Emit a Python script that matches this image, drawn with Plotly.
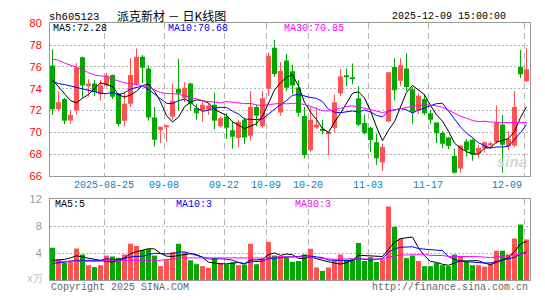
import plotly.graph_objects as go

# ---------------- data ----------------
opens = [76.12, 72.12, 73.06, 71.09, 72.0, 76.88, 74.3, 74.47, 73.5, 74.3,
         75.26, 73.56, 71.06, 72.62, 74.38, 76.94, 75.85, 71.35, 70.18, 70.5,
         71.44, 74.0, 73.12, 74.47, 72.24, 72.03, 72.1, 72.53, 70.56, 71.44,
         70.2, 69.47, 71.15, 69.68, 72.32, 70.56, 74.0, 77.76, 71.82, 76.59,
         75.6, 74.1, 71.5, 68.35, 70.45, 70.32, 69.9, 70.41, 73.56, 75.15,
         74.97, 73.12, 70.85, 70.41, 69.09, 67.24, 71.0, 76.0, 74.74, 75.85,
         73.94, 72.03, 73.06, 71.74, 70.91, 69.97, 69.53, 67.82, 66.68, 69.15,
         69.32, 68.06, 68.56, 68.85, 69.09, 70.71, 68.74, 68.79, 76.0, 74.68]
highs = [77.62, 73.75, 73.15, 72.0, 76.35, 76.95, 74.9, 74.8, 74.8, 75.45,
         75.3, 73.6, 73.7, 76.82, 77.7, 77.1, 76.15, 72.32, 70.5, 70.7,
         74.5, 76.74, 74.6, 74.55, 72.6, 72.82, 72.6, 73.65, 71.44, 71.74,
         71.0, 71.15, 71.35, 73.8, 72.53, 73.8, 77.32, 78.5, 76.44, 77.18,
         76.2, 74.82, 72.32, 72.32, 72.3, 71.15, 70.06, 73.5, 75.8, 75.85,
         76.3, 74.24, 71.6, 70.5, 69.88, 68.94, 75.5, 76.79, 76.79, 77.26,
         74.15, 73.56, 73.5, 72.03, 70.91, 70.12, 69.6, 68.5, 68.79, 69.38,
         69.44, 68.85, 69.15, 69.15, 72.47, 71.59, 70.12, 73.79, 77.56, 77.76]
lows = [71.59, 71.95, 70.76, 70.76, 71.65, 73.2, 73.26, 73.35, 72.9, 74.1,
        73.06, 70.56, 70.56, 72.32, 74.3, 74.5, 71.06, 68.7, 69.0, 69.1,
        71.15, 72.03, 72.76, 72.03, 71.15, 70.94, 71.6, 70.26, 70.41, 69.38,
        68.5, 68.65, 68.94, 69.23, 70.56, 70.41, 73.35, 75.1, 71.53, 73.8,
        73.5, 71.44, 67.62, 68.2, 70.3, 69.82, 67.9, 70.0, 73.3, 74.24,
        74.4, 70.56, 69.8, 68.2, 67.03, 66.44, 70.94, 72.91, 74.24, 73.79,
        70.79, 71.68, 71.59, 70.79, 69.03, 68.56, 68.44, 66.2, 66.29, 67.76,
        67.38, 67.62, 68.15, 68.62, 68.94, 66.29, 68.35, 68.65, 74.97, 74.62]
closes = [72.12, 72.76, 71.06, 71.59, 75.94, 74.29, 74.47, 73.7, 74.3, 75.2,
          73.26, 70.76, 72.62, 75.26, 76.94, 75.91, 71.35, 69.32, 70.5, 70.65,
          72.9, 73.56, 74.09, 72.62, 71.74, 72.53, 72.47, 71.06, 71.29, 70.41,
          69.59, 70.94, 69.53, 72.32, 71.53, 73.12, 77.03, 75.35, 75.65, 74.09,
          74.3, 71.8, 67.91, 71.15, 70.7, 70.12, 70.03, 72.76, 75.12, 75.1,
          74.9, 70.7, 69.91, 69.29, 67.62, 68.65, 75.5, 73.85, 76.15, 74.15,
          71.88, 73.35, 71.74, 71.15, 69.91, 68.94, 68.74, 66.29, 68.79, 68.35,
          67.97, 68.56, 69.09, 68.94, 70.91, 68.85, 69.38, 72.32, 75.32, 75.79]
volumes = [4.79, 3.07, 2.6, 2.9, 4.69, 3.79, 2.21, 1.93, 2.21, 3.64,
           3.5, 3.31, 3.79, 5.4, 5.07, 4.45, 4.6, 3.64, 2.07, 3.02,
           4.12, 5.4, 4.12, 2.93, 2.36, 2.07, 1.83, 3.26, 2.55, 2.36,
           2.64, 2.21, 2.31, 5.4, 2.36, 3.17, 5.64, 3.64, 3.5, 3.4,
           2.69, 2.83, 3.79, 4.64, 1.88, 1.36, 1.88, 2.93, 3.79, 3.02,
           3.17, 5.5, 2.83, 3.4, 2.69, 3.07, 10.93, 7.93, 6.17, 3.26,
           3.64, 2.83, 2.07, 2.07, 2.55, 2.21, 2.07, 3.79, 3.5, 2.69,
           2.21, 2.21, 1.98, 2.45, 4.36, 4.36, 3.79, 6.17, 8.26, 6.02]

# moving-average values before a full window is available
ma5_head = [74.82, 74.18, 73.5, 72.91]
ma10_head = [74.68, 74.47, 74.38, 74.24, 74.09, 74.0, 73.88, 73.7, 73.59]
ma30_head = [76.74, 76.6, 76.35, 76.15, 76.0, 75.76, 75.47, 75.26, 75.18, 75.12,
             74.88, 74.68, 74.53, 74.47, 74.38, 74.32, 74.18, 73.88, 73.65, 73.56,
             73.56, 73.5, 73.35, 73.2, 73.06, 72.9, 72.82, 72.76, 72.7]
vma5_head = [2.93, 3.0, 3.07, 3.3]
vma10_head = [2.45, 2.6, 2.69, 2.79, 2.93, 2.93, 2.93, 2.93, 2.93]
vma30_head = [2.79, 2.79, 2.79, 2.79, 2.79, 2.79, 2.79, 2.79, 2.79, 2.93,
              2.93, 2.93, 2.93, 2.93, 2.93, 2.93, 2.93, 2.93, 2.93, 3.07,
              3.07, 3.3, 3.3, 3.3, 3.3, 3.3, 3.3, 3.3, 3.3]

tick_labels = ["2025-08-25", "09-08", "09-22", "10-09", "10-20", "11-03", "11-17", "12-09"]
tick_index = [9, 19, 29, 36, 43, 53, 63, 79]

price_ticks = [66, 68, 70, 72, 74, 76, 78, 80]
vol_ticks = [4, 8, 12]

stock_code = "sh605123"
title_text = "派克新材 － 日K线图"
time_text = "2025-12-09 15:00:00"
ma_price_labels = ["MA5:72.28", "MA10:70.68", "MA30:70.85"]
ma_vol_labels = ["MA5:5", "MA10:3", "MA30:3"]

# ---------------- helpers ----------------
W, H = 545, 300
RED = "#ff5252"
GREEN = "#00a800"
GRID = "#b4b4b4"
BORDER = "#999999"
MONO = "Liberation Mono, DejaVu Sans Mono, monospace"


def px(x):
    return x / W


def py(y):
    return 1 - y / H


def moving(values, n, head):
    out = []
    for i in range(len(values)):
        if i < n - 1:
            out.append(head[i])
        else:
            out.append(sum(values[i - n + 1:i + 1]) / n)
    return out


n = len(closes)
xs = list(range(n))
up = [c >= o for o, c in zip(opens, closes)]

fig = go.Figure()

for flag, col in ((True, RED), (False, GREEN)):
    idx = [i for i in xs if up[i] == flag]
    # wicks
    fig.add_trace(go.Bar(
        x=idx, base=[lows[i] for i in idx],
        y=[highs[i] - lows[i] for i in idx],
        width=1 / 6, marker=dict(color=col, line=dict(width=0)),
        xaxis="x", yaxis="y", hoverinfo="skip"))
    # bodies
    fig.add_trace(go.Bar(
        x=idx, base=[min(opens[i], closes[i]) for i in idx],
        y=[max(abs(closes[i] - opens[i]), 0.09) for i in idx],
        width=5 / 6, marker=dict(color=col, line=dict(width=0)),
        xaxis="x", yaxis="y", hoverinfo="skip"))
    # volume
    fig.add_trace(go.Bar(
        x=idx, y=[volumes[i] for i in idx],
        width=5 / 6, marker=dict(color=col, line=dict(width=0)),
        xaxis="x2", yaxis="y2", hoverinfo="skip"))

for vals, cols, head, axy in (
        (closes, (5, "black"), ma5_head, "y"),
        (closes, (10, "blue"), ma10_head, "y"),
        (closes, (30, "magenta"), ma30_head, "y"),
        (volumes, (5, "black"), vma5_head, "y2"),
        (volumes, (10, "blue"), vma10_head, "y2"),
        (volumes, (30, "magenta"), vma30_head, "y2")):
    nn, col = cols
    fig.add_trace(go.Scatter(
        x=xs, y=moving(vals, nn, head), mode="lines",
        line=dict(color=col, width=1),
        xaxis="x" if axy == "y" else "x2", yaxis=axy, hoverinfo="skip"))

shift = 1 / 12
xrange_ = [-0.5 + shift, n - 0.5 + shift]
grid_x = [t - 0.5 + shift for t in tick_index]

xdom = [px(50), px(530)]
common_x = dict(domain=xdom, range=xrange_, tickvals=grid_x, showticklabels=False,
                ticks="", showgrid=True, gridcolor=GRID, griddash="6px,4px", gridwidth=1,
                zeroline=False, showline=True, mirror=True, linecolor=BORDER, linewidth=1,
                fixedrange=True)

fig.update_layout(
    width=W, height=H, margin=dict(l=0, r=0, t=0, b=0),
    paper_bgcolor="white", plot_bgcolor="white",
    showlegend=False, barmode="overlay", hovermode=False,
    xaxis=dict(anchor="y", **common_x),
    xaxis2=dict(anchor="y2", **common_x),
    yaxis=dict(domain=[py(177), py(18)], range=[66, 80], tickvals=price_ticks,
               ticktext=[str(v) for v in price_ticks], tickfont=dict(color="#ff0000", size=11,
                                                                    family="Liberation Sans, Arial"),
               ticks="", ticklabelstandoff=5, showgrid=True, gridcolor=GRID, griddash="2px,2px",
               zeroline=False, showline=True, mirror=True, linecolor=BORDER, linewidth=1,
               anchor="x"),
    yaxis2=dict(domain=[py(285.5), py(201.3)], range=[0, 12], tickvals=vol_ticks,
                ticktext=[str(v) for v in vol_ticks], tickfont=dict(color="#999999", size=11,
                                                                   family="Liberation Sans, Arial"),
                ticks="", ticklabelstandoff=5, showgrid=True, gridcolor=GRID, griddash="2px,2px",
                zeroline=False, showline=True, mirror=True, linecolor=BORDER, linewidth=1,
                anchor="x2"),
)

ann = []


def text(x, y, s, color="black", size=10, anchor="left", family=MONO, **kw):
    ann.append(dict(x=px(x), y=py(y), xref="paper", yref="paper", text=s, showarrow=False,
                    xanchor=anchor, yanchor="middle", font=dict(color=color, size=size, family=family),
                    **kw))


text(47, 11, stock_code, size=10.5)
text(115, 10, title_text, size=12, family="Noto Sans CJK SC")
text(508, 11, time_text, size=10, anchor="right")

for lbl, x0, col in zip(ma_price_labels, (51, 166, 282), ("black", "blue", "magenta")):
    text(x0, 23.5, lbl, color=col, size=10)
for lbl, x0, col in zip(ma_vol_labels, (53, 174, 293), ("black", "blue", "magenta")):
    text(x0, 207, lbl, color=col, size=10)

# x axis labels (centred on the dashed date lines; last one right-aligned)
for k, (lbl, g) in enumerate(zip(tick_labels, grid_x)):
    anchor = "right" if k == len(tick_labels) - 1 else "center"
    ann.append(dict(x=g, y=py(186.5), xref="x", yref="paper", text=lbl, showarrow=False,
                    xanchor=anchor, yanchor="middle",
                    font=dict(color="#0b7fc7", size=10, family=MONO)))

text(45, 285, "x万", color="#bbbbbb", size=10, anchor="right")
text(49, 293, "Copyright 2025 SINA.COM", color="#666666", size=10)
text(530, 293, "http://finance.sina.com.cn", color="#666666", size=10, anchor="right")
text(512, 162, "<i><b>sina</b></i>", color="#d6d6d6", size=15, anchor="center",
     family="Liberation Sans, Arial")

fig.update_layout(annotations=ann)
fig.write_html("out.html")
